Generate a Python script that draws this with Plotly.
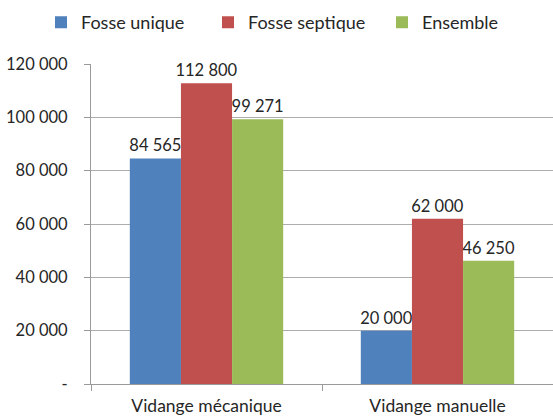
import plotly.graph_objects as go

categories = ["Vidange mécanique", "Vidange manuelle"]
series_names = ["Fosse unique", "Fosse septique", "Ensemble"]
fosse_unique = [84565, 20000]
fosse_septique = [112800, 62000]
ensemble = [99271, 46250]
colors = ["#4F81BD", "#C0504D", "#9BBB59"]
tick_vals = [0, 20000, 40000, 60000, 80000, 100000, 120000]
tick_text = ["-", "20 000", "40 000", "60 000", "80 000", "100 000", "120 000"]

FONT = "Lato, Open Sans, sans-serif"
legend_ids = ["legend", "legend2", "legend3"]
legend_x = [41, 208, 382]

fig = go.Figure()
for name, vals, col, lid in zip(series_names, [fosse_unique, fosse_septique, ensemble], colors, legend_ids):
    fig.add_trace(go.Bar(
        x=categories, y=vals, name=name, legend=lid,
        marker=dict(color=col, line=dict(width=0)),
        texttemplate="%{y:,}", textposition="outside",
        textfont=dict(size=16.5, color="#262626", family=FONT),
        constraintext="none",
        cliponaxis=False,
    ))

legend_style = dict(orientation="h", xref="container", yref="container",
                    xanchor="left", y=0.99, yanchor="top",
                    font=dict(size=18, color="#262626", family=FONT),
                    itemwidth=30, bgcolor="rgba(0,0,0,0)")
layout_legends = {lid: dict(legend_style, x=lx / 553) for lid, lx in zip(legend_ids, legend_x)}

fig.update_layout(
    width=553, height=416,
    margin=dict(l=91, r=0, t=64, b=32, autoexpand=False),
    paper_bgcolor="white", plot_bgcolor="white",
    barmode="group", bargap=0.336, bargroupgap=0,
    separators=", ",
    font=dict(family=FONT, size=16, color="#262626"),
    showlegend=True,
    **layout_legends,
)
fig.update_xaxes(
    range=[-0.5, 1.5], showline=True, linecolor="#9A9A9A", linewidth=1,
    ticks="outside", tickson="boundaries", ticklen=6, tickcolor="#9A9A9A",
    tickfont=dict(size=17.5, color="#262626"), ticklabelstandoff=6,
    showgrid=False,
)
fig.update_yaxes(
    range=[0, 120000], tickvals=tick_vals, ticktext=tick_text,
    showline=True, linecolor="#9A9A9A", linewidth=1,
    ticks="outside", ticklen=6, tickcolor="#9A9A9A",
    gridcolor="#ADADAD", gridwidth=1, zeroline=False,
    tickfont=dict(size=16.5, color="#262626"), ticklabelstandoff=13,
)

fig.write_html("out.html", config={"displayModeBar": False},
               post_script="document.body.style.margin='0';")
